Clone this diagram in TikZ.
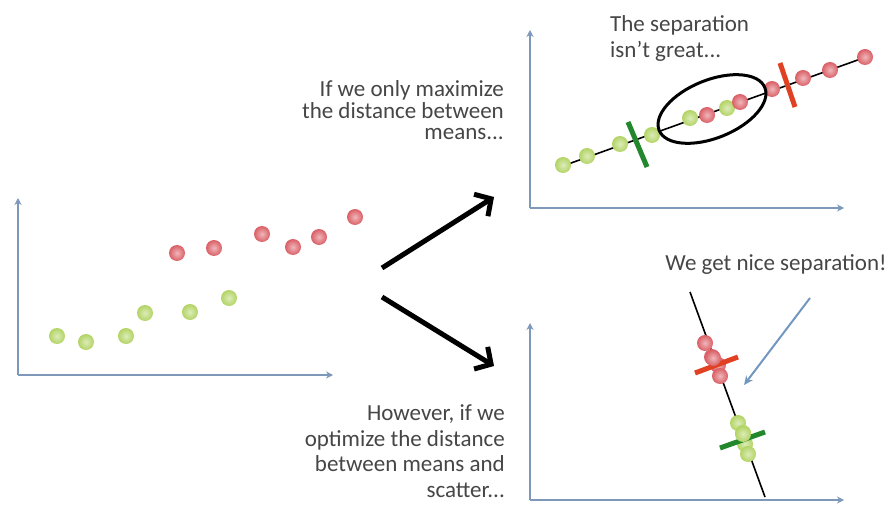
\documentclass[tikz,border=0pt]{standalone}
\usepackage{fontspec}
\setmainfont{Carlito}
\usetikzlibrary{arrows.meta,shapes.geometric}
\definecolor{axisblue}{RGB}{125,152,184}
\definecolor{txtgray}{RGB}{70,70,70}
\definecolor{ptred}{RGB}{218,95,102}
\definecolor{ptgreen}{RGB}{178,212,100}
\definecolor{tickgreen}{RGB}{35,135,45}
\definecolor{tickred}{RGB}{225,65,35}
\definecolor{callblue}{RGB}{115,152,192}
\tikzset{
  axisline/.style={draw=axisblue, line width=2pt, -{Stealth[length=7pt,width=7pt]}},
  redpt/.style={circle, minimum size=16pt, inner sep=0pt, shading=radial, inner color=ptred!45!white, outer color=ptred},
  greenpt/.style={circle, minimum size=16pt, inner sep=0pt, shading=radial, inner color=ptgreen!45!white, outer color=ptgreen},
  bigarrow/.style={line width=5pt, -{Straight Barb[length=12pt,width=26pt,line width=5pt]}},
  projline/.style={line width=1.6pt, black},
  tickmark/.style={line width=5pt},
  note/.style={text=txtgray, inner sep=0pt},
}
\begin{document}
\begin{tikzpicture}[x=1pt,y=-1pt]
\useasboundingbox[fill=white] (0,0) rectangle (888,505);

% ---------- left plot ----------
\coordinate (lo) at (18,375);
\coordinate (ly) at (18,198);
\coordinate (lx) at (333,375);
\draw[axisline] (lo) -- (ly);
\draw[axisline] (lo) -- (lx);
\node[redpt] (r1) at (177,253) {};
\node[redpt] (r2) at (214,248) {};
\node[redpt] (r3) at (262,234) {};
\node[redpt] (r4) at (293,247) {};
\node[redpt] (r5) at (319,237) {};
\node[redpt] (r6) at (355,217) {};
\node[greenpt] (g1) at (57,336) {};
\node[greenpt] (g2) at (86,342) {};
\node[greenpt] (g3) at (126,336) {};
\node[greenpt] (g4) at (145,313) {};
\node[greenpt] (g5) at (190,312) {};
\node[greenpt] (g6) at (229,298) {};

% ---------- big arrows ----------
\coordinate (a1s) at (382,268);
\coordinate (a1e) at (494,197);
\coordinate (a2s) at (382,297);
\coordinate (a2e) at (494,366);
\draw[bigarrow] (a1s) -- (a1e);
\draw[bigarrow] (a2s) -- (a2e);

% ---------- texts ----------
\node[note, align=right, anchor=base east, font=\fontsize{23}{21.5}\selectfont] (t1) at (504,140) {If we only maximize\\the distance between\\means...};
\node[note, align=right, anchor=base east, font=\fontsize{23}{25.5}\selectfont] (t2) at (505,497) {However, if we\\optimize the distance\\between means and\\scatter...};
\node[note, align=left, anchor=base west, font=\fontsize{23}{26}\selectfont] (t3) at (610,58) {The separation\\isn’t great...};
\node[note, anchor=base, font=\fontsize{23}{26}\selectfont] (t4) at (776,270) {We get nice separation!};

% ---------- upper right plot ----------
\coordinate (uo) at (530,208);
\coordinate (uy) at (530,30);
\coordinate (ux) at (844,208);
\draw[axisline] (uo) -- (uy);
\draw[axisline] (uo) -- (ux);
\coordinate (ul1) at (560,167);
\coordinate (ul2) at (866,57);
\draw[projline] (ul1) -- (ul2);
\draw[tickmark, tickgreen] (628,122) coordinate (gt1) -- (647,167) coordinate (gt2);
\node[greenpt] (u1) at (563,165) {};
\node[greenpt] (u2) at (587,156) {};
\node[greenpt] (u3) at (620,144) {};
\node[greenpt] (u4) at (652,135) {};
\node[greenpt] (u5) at (690,118) {};
\node[redpt] (u6) at (707,115) {};
\node[greenpt] (u7) at (727,108) {};
\node[redpt] (u8) at (740,102) {};
\node[redpt] (u9) at (772,89) {};
\node[redpt] (u10) at (803,78) {};
\node[redpt] (u11) at (830,70) {};
\node[redpt] (u12) at (865,57) {};
\draw[tickmark, tickred] (780,63) coordinate (rt1) -- (795,107) coordinate (rt2);
\node[draw=black, line width=3pt, ellipse, minimum width=114pt, minimum height=58pt, inner sep=0pt, rotate=22] (ell) at (712,109) {};

% ---------- lower right plot ----------
\coordinate (bo) at (530,500);
\coordinate (by) at (530,323);
\coordinate (bx) at (844,500);
\draw[axisline] (bo) -- (by);
\draw[axisline] (bo) -- (bx);
\coordinate (bl1) at (690,292);
\coordinate (bl2) at (765,497);
\draw[projline] (bl1) -- (bl2);
\node[redpt] (b1) at (705,343) {};
\node[redpt] (b2) at (712,357) {};
\node[redpt] (b3) at (718,365) {};
\node[redpt] (b4) at (720,376) {};
\draw[tickmark, tickred] (695,373) coordinate (brt1) -- (738,357) coordinate (brt2);
\node[redpt] (b2b) at (713,358) {};
\node[greenpt] (c1) at (738,423) {};
\node[greenpt] (c2) at (743,433) {};
\node[greenpt] (c3) at (745,444) {};
\node[greenpt] (c4) at (748,454) {};
\draw[tickmark, tickgreen] (720,448) coordinate (bgt1) -- (765,432) coordinate (bgt2);
\node[greenpt] (c2b) at (743,434) {};

% callout arrow
\coordinate (cs) at (810,298);
\coordinate (ce) at (744,385);
\draw[callblue, line width=2pt, -{Stealth[length=9pt,width=8pt]}] (cs) -- (ce);
\end{tikzpicture}
\end{document}
